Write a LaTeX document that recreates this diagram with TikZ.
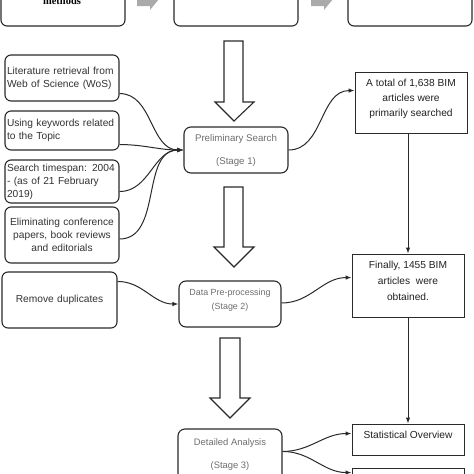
\documentclass[tikz,border=0pt]{standalone}
\usepackage{fontspec}
\setmainfont{Liberation Sans}
\newfontfamily\serifbold{Liberation Serif}
\usetikzlibrary{arrows.meta,calc}
\definecolor{edge}{HTML}{2A2A2A}
\definecolor{lefttext}{HTML}{333333}
\definecolor{stagetext}{HTML}{6E6E6E}
\definecolor{righttext}{HTML}{222222}
\definecolor{topgray}{HTML}{AAAAAA}
\begin{document}
\begin{tikzpicture}[x=1pt,y=-1pt,
  topbox/.style={draw=edge,line width=1.1pt,rounded corners=6pt,minimum width=124pt,minimum height=70pt,inner sep=0pt},
  leftbox/.style={draw=edge,line width=1.1pt,rounded corners=6pt,minimum width=114pt,inner xsep=2pt,inner ysep=3pt,text width=110pt,align=left,text=lefttext,font=\fontsize{10.2}{13}\selectfont},
  stagebox/.style={draw=edge,line width=1.1pt,rounded corners=7pt,inner sep=0pt,align=center,text=stagetext},
  rightbox/.style={draw=edge,line width=0.9pt,minimum width=112pt,inner sep=0pt,align=center,text=righttext,font=\fontsize{10.2}{15}\selectfont},
  hollow/.style={draw=edge,line width=1.1pt,fill=white},
  conn/.style={draw=edge,line width=1pt,-{Latex[length=6pt,width=4.5pt]}},
  topgarrow/.style={fill=topgray,draw=none}]
\useasboundingbox (0,0) rectangle (474,474);
\clip (0,0) rectangle (474,474);
\fill[white] (0,0) rectangle (474,474);

% top row (cut off)
\node[topbox] (t1) at (63,-9) {};
\node[topbox] (t2) at (236,-9) {};
\node[topbox] (t3) at (410,-9) {};
\node[anchor=base,font=\serifbold\bfseries\fontsize{10.5}{12}\selectfont,inner sep=0pt] (tm) at (62,4) {methods};
\fill[topgarrow] (137,-8) -- (137,6) -- (150,6) -- (150,10) -- (159,-1) -- (150,-10) -- cycle;
\fill[topgarrow] (311,-8) -- (311,6) -- (324,6) -- (324,10) -- (333,-1) -- (324,-10) -- cycle;

% left boxes
\node[leftbox,minimum height=46pt] (b1) at (62,78) {Literature retrieval from\\Web of Science (WoS)};
\node[leftbox,minimum height=39pt] (b2) at (62,130.5) {Using keywords related\\to the Topic};
\node[leftbox,minimum height=43pt] (b3) at (62,181.5) {Search timespan: 2004\\- (as of 21 February\\2019)};
\node[leftbox,minimum height=56pt,align=center] (b4) at (62,235) {Eliminating conference\\papers, book reviews\\and editorials};
\node[leftbox,minimum height=56pt,minimum width=115pt,align=center] (b5) at (59.5,300) {Remove duplicates\\[6pt]};

% stage boxes
\node[stagebox,minimum width=104pt,minimum height=46pt,font=\fontsize{9.7}{12}\selectfont] (s1) at (236,150) {Preliminary Search\\[11pt](Stage 1)};
\node[stagebox,minimum width=102pt,minimum height=46pt,font=\fontsize{8.9}{14}\selectfont] (s2) at (230,304) {Data Pre-processing\\(Stage 2)\\[-4pt]};
\node[stagebox,minimum width=104pt,minimum height=52pt,font=\fontsize{9.4}{12}\selectfont] (s3) at (230,455) {Detailed Analysis\\[11pt](Stage 3)};

% right boxes
\node[rightbox,minimum height=61pt] (r1) at (411,102.5) {A total of 1,638 BIM\\articles were\\primarily searched\\[-6pt]};
\node[rightbox,minimum height=63pt,font=\fontsize{10.2}{16}\selectfont] (r2) at (408,285.5) {Finally, 1455 BIM\\articles\ \ were\\obtained.\\[-6pt]};
\node[rightbox,minimum height=31pt] (r3) at (408,439.5) {Statistical Overview\\[-6pt]};
\node[rightbox,minimum height=44pt] (r4) at (408,490) {};

% hollow arrows
\coordinate (h1) at (234,41);
\path[hollow] (224,41) -- (224,102) -- (215,102) -- (234,121) -- (254,102) -- (243,102) -- (243,41) -- cycle;
\coordinate (h2) at (234,187);
\path[hollow] (224,187) -- (224,247) -- (214,247) -- (234,267) -- (254,247) -- (243,247) -- (243,187) -- cycle;
\coordinate (h3) at (230,338);
\path[hollow] (220,338) -- (220,398) -- (210,398) -- (230,418) -- (250,398) -- (240,398) -- (240,338) -- cycle;

% connectors from left boxes
\draw[conn] ($(b1.south east)+(0,-8)$) to[out=0,in=180] (s1.west);
\draw[conn] ($(b2.south east)+(0,-6)$) to[out=0,in=180] (s1.west);
\draw[conn] ($(b3.south east)+(0,-12)$) to[out=0,in=180] (s1.west);
\draw[conn] ($(b4.east)+(0,4)$) to[out=0,in=180] (s1.west);
\draw[conn] ($(b5.north east)+(0,10)$) to[out=0,in=180] (s2.west);

% connectors to right boxes
\draw[conn] (s1.east) to[out=0,in=180] ($(r1.north west)+(0,19)$);
\draw[conn] ($(s2.east)+(0,-1)$) to[out=0,in=180] ($(r2.north west)+(0,24)$);
\draw[conn] ($(s3.north east)+(0,23)$) to[out=0,in=180] ($(r3.north west)+(0,10)$);
\draw[conn] ($(s3.north east)+(0,23)$) to[out=0,in=180] ($(r4.north west)+(0,5)$);
\draw[conn] (r1.south -| r2.north) -- (r2.north);
\draw[conn] (r2.south) -- (r3.north);
\end{tikzpicture}
\end{document}
